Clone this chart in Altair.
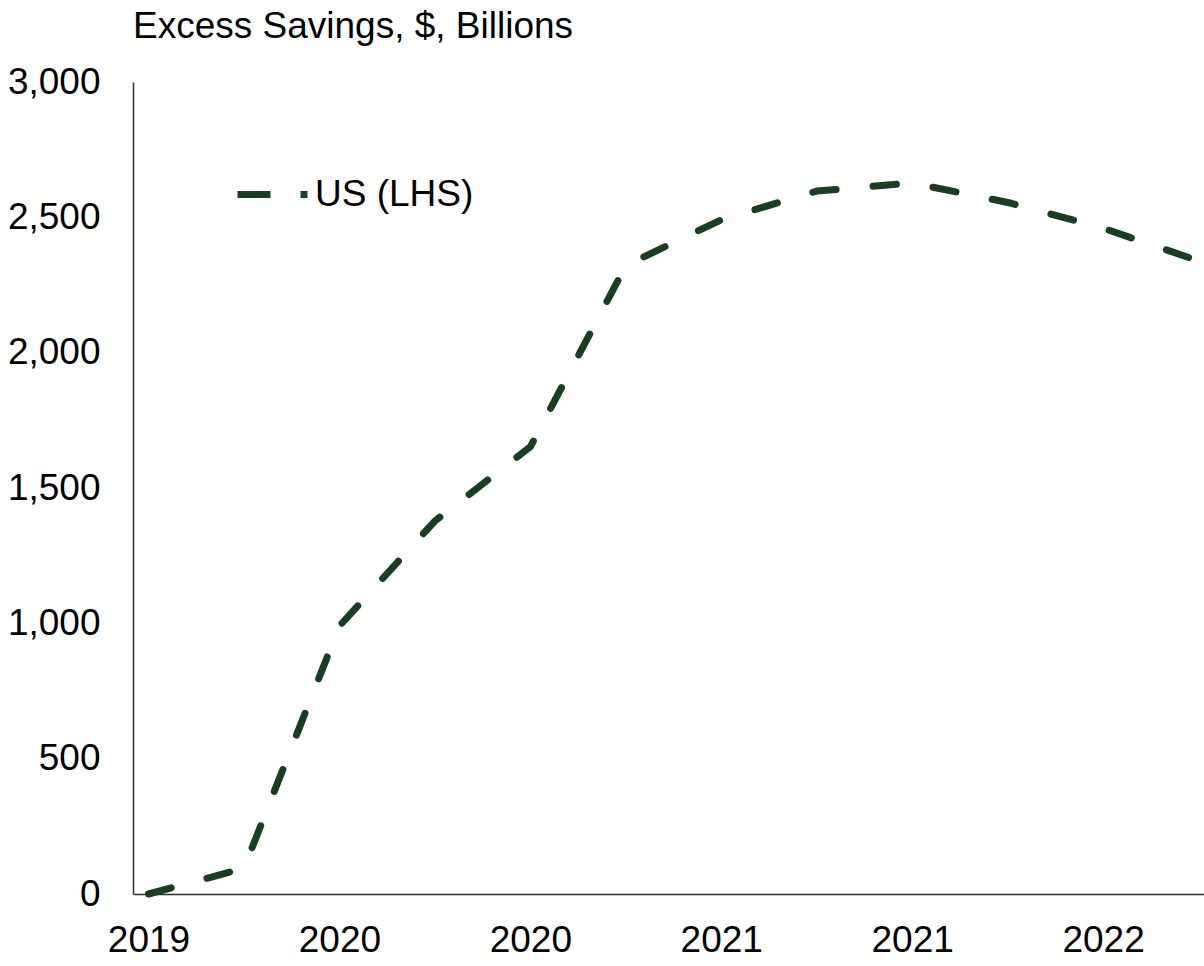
import json
import altair as alt
import pandas as pd

# ---- data ----
quarters = ["2019-Q4", "2020-Q1", "2020-Q2", "2020-Q3", "2020-Q4", "2021-Q1",
            "2021-Q2", "2021-Q3", "2021-Q4", "2022-Q1", "2022-Q2", "2022-Q3"]
us_excess_savings = [0, 95, 990, 1378, 1652, 2322, 2491, 2597, 2627, 2555, 2460, 2339]
tick_labels = ["2019", "2020", "2020", "2021", "2021", "2022"]
series_name = "US (LHS)"

df = pd.DataFrame({
    "idx": list(range(len(quarters))),
    "quarter": quarters,
    "value": us_excess_savings,
    "series": [series_name] * len(quarters),
})

FONT = "Liberation Sans"
GREEN = "#183f23"
AXIS = "#2e3326"

label_expr = json.dumps(tick_labels) + "[datum.value / 2]"

chart = alt.Chart(df).mark_line(
    strokeWidth=7,
    strokeDash=[23.5, 37],
    strokeCap="round",
    strokeJoin="round",
).encode(
    x=alt.X("idx:Q",
            scale=alt.Scale(domain=[-0.1624, 11.057], nice=False, zero=False),
            axis=alt.Axis(values=[0, 2, 4, 6, 8, 10], labelExpr=label_expr,
                          title=None, grid=False, ticks=False,
                          labelPadding=28, labelFontSize=37, labelFont=FONT,
                          labelColor="#000000", domainColor=AXIS, domainWidth=1.5,
                          labelFlush=False, labelOverlap=False)),
    y=alt.Y("value:Q",
            scale=alt.Scale(domain=[0, 3000], nice=False),
            axis=alt.Axis(values=[0, 500, 1000, 1500, 2000, 2500, 3000], format=",.0f",
                          title=None, grid=False, ticks=False,
                          labelPadding=33, labelFontSize=37, labelFont=FONT,
                          labelColor="#000000", domainColor=AXIS, domainWidth=1.5)),
    color=alt.Color("series:N",
                    scale=alt.Scale(domain=[series_name], range=[GREEN]),
                    legend=alt.Legend(title=None, orient="none",
                                      legendX=101, legendY=74,
                                      symbolType="stroke", symbolSize=4900,
                                      symbolStrokeWidth=7, symbolDash=[33, 30],
                                      labelFont=FONT, labelFontSize=37,
                                      labelColor="#000000", labelOffset=4,
                                      padding=0)),
).properties(
    width=1071,
    height=812,
    background="white",
    title=alt.TitleParams("Excess Savings, $, Billions", anchor="start", frame="group",
                          font=FONT, fontSize=37, fontWeight="normal",
                          color="#000000", offset=17),
    autosize=alt.AutoSizeParams(type="none"),
    padding={"left": 133, "top": 82, "right": 0, "bottom": 72},
).configure_view(stroke=None, strokeWidth=0)

chart.save("out.html", embed_options={"renderer": "svg", "actions": False})
